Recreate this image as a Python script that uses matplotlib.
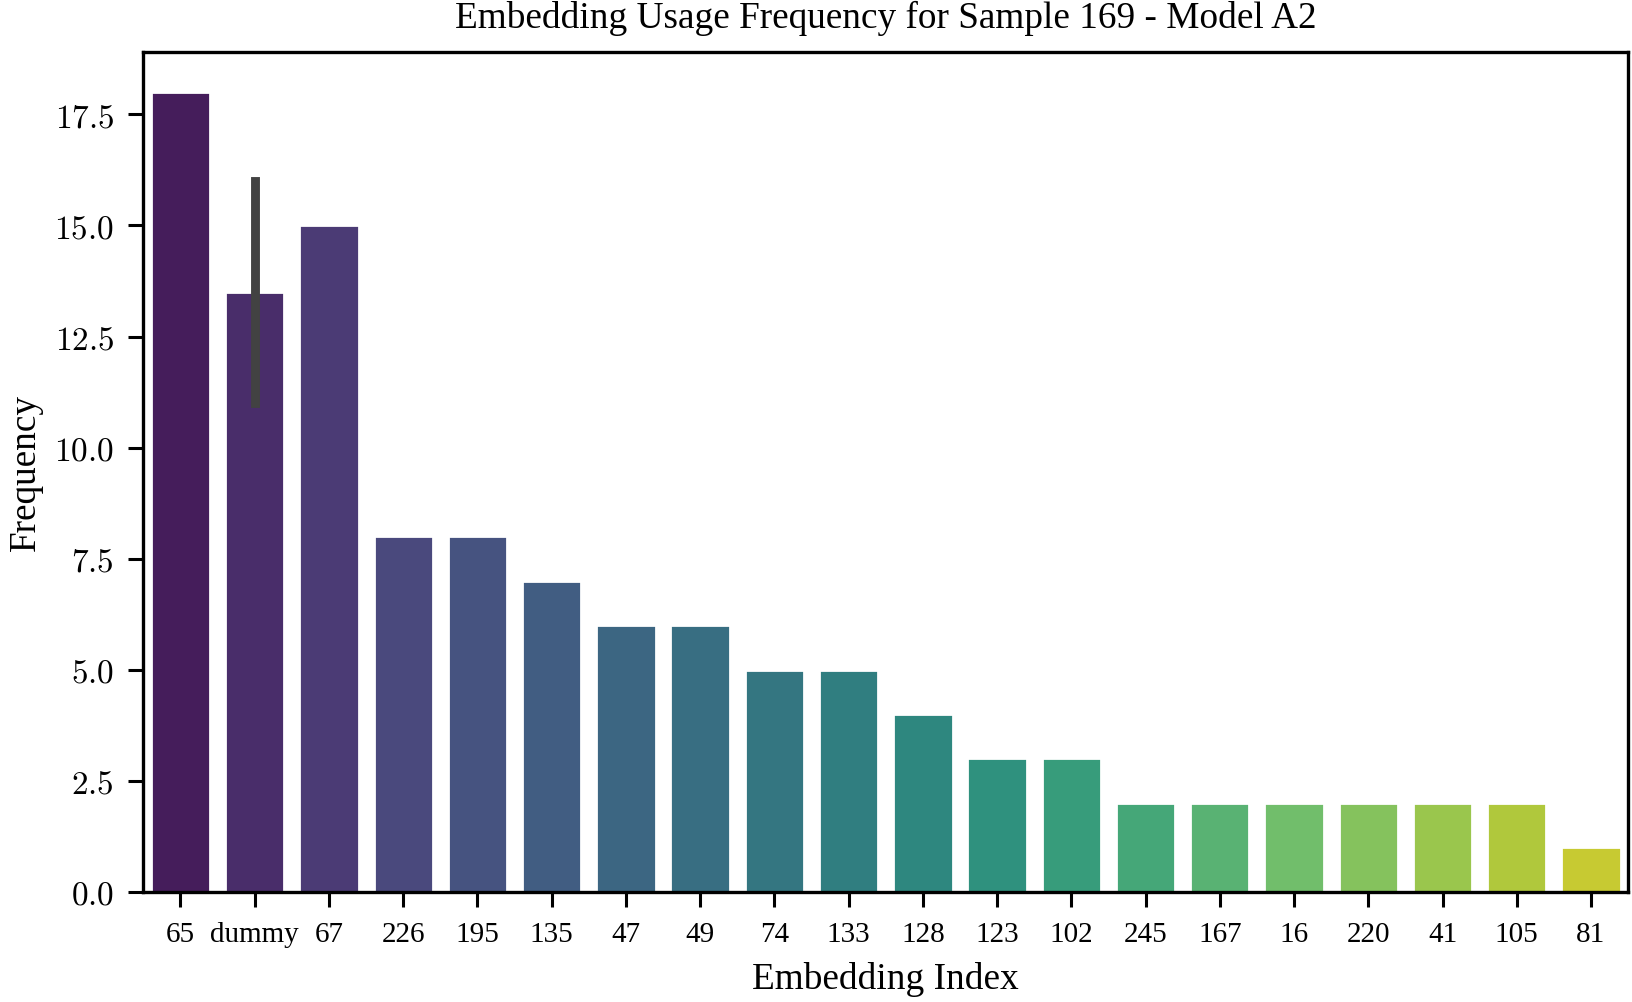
import pandas as pd
import matplotlib
matplotlib.use("Agg")
import matplotlib.pyplot as plt
import matplotlib.ticker as mticker
import seaborn as sns

# ------------------------------------------------------------------
# Data: embedding index -> observed usage counts
# ------------------------------------------------------------------
order = ["65", "dummy", "67", "226", "195", "135", "47", "49", "74", "133",
         "128", "123", "102", "245", "167", "16", "220", "41", "105", "81"]
counts = [18, None, 15, 8, 8, 7, 6, 6, 5, 5,
          4, 3, 3, 2, 2, 2, 2, 2, 2, 1]
dummy_counts = [11, 16]   # two observations -> mean 13.5 with a spread bar

rows = []
for idx, c in zip(order, counts):
    if idx == "dummy":
        rows += [{"Embedding Index": idx, "Frequency": v} for v in dummy_counts]
    else:
        rows.append({"Embedding Index": idx, "Frequency": c})
df = pd.DataFrame(rows)

# ------------------------------------------------------------------
# Style
# ------------------------------------------------------------------
sns.set_style("ticks")
plt.rcParams["font.family"] = ["Liberation Serif", "DejaVu Serif"]
plt.rcParams["mathtext.fontset"] = "cm"
plt.rcParams["axes.edgecolor"] = "black"
plt.rcParams["xtick.color"] = "black"
plt.rcParams["ytick.color"] = "black"
plt.rcParams["text.color"] = "black"
plt.rcParams["axes.labelcolor"] = "black"
plt.rcParams["axes.linewidth"] = 1.2
plt.rcParams["xtick.major.size"] = 5.5
plt.rcParams["ytick.major.size"] = 5.5
plt.rcParams["xtick.major.width"] = 1.1
plt.rcParams["ytick.major.width"] = 1.1

fig = plt.figure(figsize=(1633 / 200, 1003 / 200), dpi=200)
ax = fig.add_axes([0.0878, 0.110, 0.9092, 0.8369])

sns.barplot(data=df, x="Embedding Index", y="Frequency", hue="Embedding Index",
            order=order, hue_order=order, palette="viridis", legend=False,
            errorbar=("pi", 100),
            err_kws={"linewidth": 3.2, "color": "#424242", "solid_capstyle": "projecting"},
            ax=ax)

ax.yaxis.set_major_formatter(mticker.FuncFormatter(lambda v, p: f"${v:.1f}$"))

ax.set_title("Embedding Usage Frequency for Sample 169 - Model A2", fontsize=13.4, pad=9)
ax.set_xlabel("Embedding Index", fontsize=13.4, labelpad=5)
ax.set_ylabel("Frequency", fontsize=13.4, labelpad=4)
ax.tick_params(axis="x", labelsize=10.5, pad=5)
ax.tick_params(axis="y", labelsize=12, pad=5)

fig.savefig("out.png", dpi=200)
